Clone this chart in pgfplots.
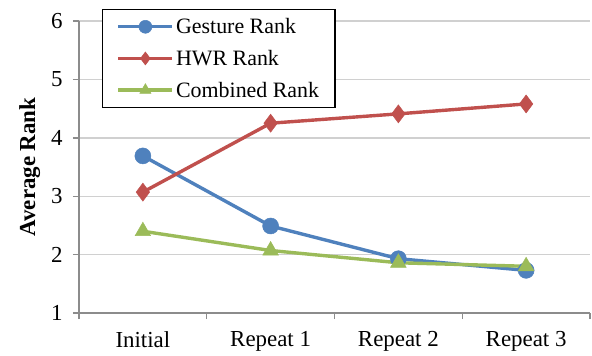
\documentclass[border=0pt]{standalone}
\usepackage{fontspec}
\setmainfont{Liberation Serif}
\usepackage{pgfplots}
\pgfplotsset{compat=1.18}
\definecolor{cBlue}{HTML}{4F81BD}
\definecolor{cRed}{HTML}{C0504D}
\definecolor{cGreen}{HTML}{9BBB59}
\definecolor{cGrid}{HTML}{D0D0D0}
\definecolor{cAxis}{HTML}{8C8C8C}
\begin{document}
\begin{tikzpicture}
\begin{axis}[
  at={(0,0)}, anchor=south west,
  scale only axis,
  width=511bp, height=292bp,
  xmin=-0.5, xmax=3.5,
  ymin=1, ymax=6,
  xtick={0,1,2,3},
  xticklabels={Initial, Repeat 1, Repeat 2, Repeat 3},
  minor xtick={-0.5,0.5,1.5,2.5,3.5},
  ytick={1,2,3,4,5,6},
  axis x line*=bottom, axis y line*=left,
  axis line style={cAxis, line width=1.4bp, -},
  major x tick style={draw=none},
  minor x tick style={cAxis, line width=1.4bp},
  major y tick style={cAxis, line width=1.4bp},
  tick align=outside,
  major tick length=6bp, minor tick length=6bp,
  ymajorgrids, major grid style={cGrid, line width=1.4bp},
  ticklabel style={font=\fontsize{23}{26}\selectfont},
  xticklabel style={yshift=-9bp},
  yticklabel style={xshift=-7bp},
  /pgf/number format/assume math mode=true,
  ylabel={\textbf{Average Rank}},
  ylabel style={font=\fontsize{23}{26}\selectfont, yshift=4bp},
  legend style={at={(rel axis cs:0.045,1.042)}, anchor=north west,
    draw=black, line width=1.4bp, font=\fontsize{22}{26}\selectfont,
    row sep=11bp, inner xsep=14bp, inner ysep=7bp,
    cells={anchor=west}},
  legend cell align=left,
  legend image code/.code={
    \draw[#1, mark=none] (4bp,0bp) -- (58bp,0bp);
    \draw[#1, only marks, mark size=6.5bp] plot coordinates {(31bp,0bp)};
  },
  every axis plot/.append style={line width=3.4bp},
]
\addplot[cBlue, mark=*, mark size=8bp, mark options={solid, fill=cBlue, draw=cBlue, line width=0.5bp}]
  coordinates {(0,3.69) (1,2.49) (2,1.93) (3,1.73)};
\addlegendentry{Gesture Rank}
\addplot[cRed, mark=diamond*, mark size=9bp, mark options={solid, fill=cRed, draw=cRed, line width=0.5bp}]
  coordinates {(0,3.07) (1,4.25) (2,4.41) (3,4.58)};
\addlegendentry{HWR Rank}
\addplot[cGreen, mark=triangle*, mark size=9bp, mark options={solid, fill=cGreen, draw=cGreen, line width=0.5bp}]
  coordinates {(0,2.40) (1,2.07) (2,1.86) (3,1.80)};
\addlegendentry{Combined Rank}
\end{axis}
\pgfresetboundingbox
\path (-79bp,-43bp) rectangle (513bp,313bp);
\end{tikzpicture}
\end{document}
